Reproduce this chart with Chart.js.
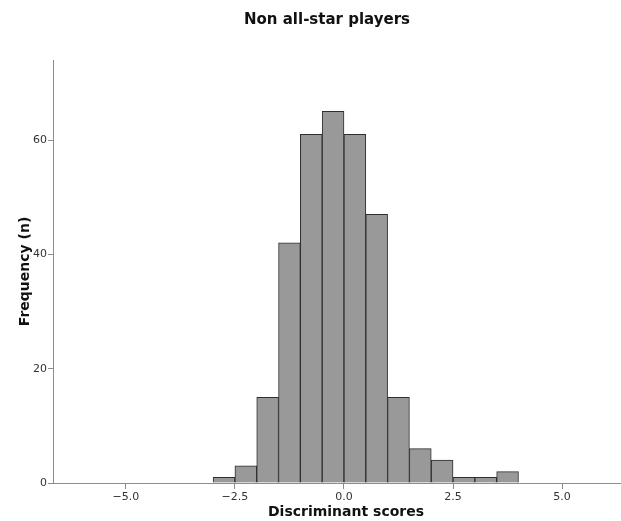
<!DOCTYPE html>
<html>
<head>
<meta charset="utf-8">
<script src="https://cdn.jsdelivr.net/npm/chart.js@4/dist/chart.umd.min.js"></script>
<style>
  html, body { margin: 0; padding: 0; background: #fff; }
  canvas { display: block; }
</style>
</head>
<body>
<canvas id="histChart" width="621" height="521"></canvas>
<script>
// Histogram bins (lower edge of each 0.5-wide bin) and counts
const binStarts = [-3.0, -2.5, -2.0, -1.5, -1.0, -0.5, 0.0, 0.5, 1.0, 1.5, 2.0, 2.5, 3.0, 3.5];
const counts = [1, 3, 15, 42, 61, 65, 61, 47, 15, 6, 4, 1, 1, 2];
const binWidth = 0.5;

const xTicks = [-5.0, -2.5, 0.0, 2.5, 5.0];
const yTicks = [0, 20, 40, 60];
const xRange = [-6.67, 6.35];
const yRange = [0, 74];

const chartTitle = 'Non all-star players';
const xTitle = 'Discriminant scores';
const yTitle = 'Frequency (n)';

const fontFamily = '"DejaVu Sans", "Noto Sans", sans-serif';
const axisGray = '#8c8c8c';

// SPSS style minus sign on tick labels
function fmtTick(v) {
  const s = Math.abs(v).toFixed(1);
  return v < 0 ? '\u2212' + s : s;
}

// Titles drawn by hand so they sit where SPSS puts them
const titlesPlugin = {
  id: 'titles',
  afterDraw(chart) {
    const { ctx, chartArea } = chart;
    const midX = (chartArea.left + chartArea.right) / 2;
    const midY = (chartArea.top + chartArea.bottom) / 2;
    ctx.save();
    ctx.fillStyle = '#111';
    ctx.textAlign = 'center';
    ctx.textBaseline = 'middle';

    ctx.font = 'bold 15px ' + fontFamily;
    ctx.fillText(chartTitle, midX - 10, 20);

    ctx.font = 'bold 14px ' + fontFamily;
    ctx.fillText(xTitle, midX + 9, 512);

    ctx.translate(25, midY);
    ctx.rotate(-Math.PI / 2);
    ctx.fillText(yTitle, 0, 0);
    ctx.restore();
  }
};

const ctx = document.getElementById('histChart').getContext('2d');
new Chart(ctx, {
  type: 'bar',
  data: {
    datasets: [{
      data: binStarts.map((b, i) => ({ x: b + binWidth / 2, y: counts[i] })),
      backgroundColor: '#999999',
      borderColor: '#2e2e2e',
      borderWidth: 1,
      categoryPercentage: 1,
      barPercentage: 1
    }]
  },
  options: {
    responsive: false,
    animation: false,
    layout: { padding: { top: 60, left: 0, right: 0, bottom: 0 } },
    plugins: {
      legend: { display: false },
      tooltip: { enabled: false },
      title: { display: false }
    },
    scales: {
      x: {
        type: 'linear',
        min: xRange[0],
        max: xRange[1],
        offset: false,
        grid: { offset: false, drawOnChartArea: false, drawTicks: true, tickLength: 6, color: axisGray },
        border: { color: axisGray, width: 1 },
        ticks: {
          font: { family: fontFamily, size: 11 },
          color: '#333',
          padding: 2,
          maxRotation: 0,
          callback: v => fmtTick(v)
        },
        afterBuildTicks: s => { s.ticks = xTicks.map(v => ({ value: v })); },
        afterFit: s => { s.height = 38; }
      },
      y: {
        min: yRange[0],
        max: yRange[1],
        grid: { drawOnChartArea: false, drawTicks: true, tickLength: 5, color: axisGray },
        border: { color: axisGray, width: 1 },
        ticks: {
          font: { family: fontFamily, size: 11 },
          color: '#333',
          padding: 1
        },
        afterBuildTicks: s => { s.ticks = yTicks.map(v => ({ value: v })); },
        afterFit: s => { s.width = 53; }
      }
    }
  },
  plugins: [titlesPlugin]
});
</script>
</body>
</html>
